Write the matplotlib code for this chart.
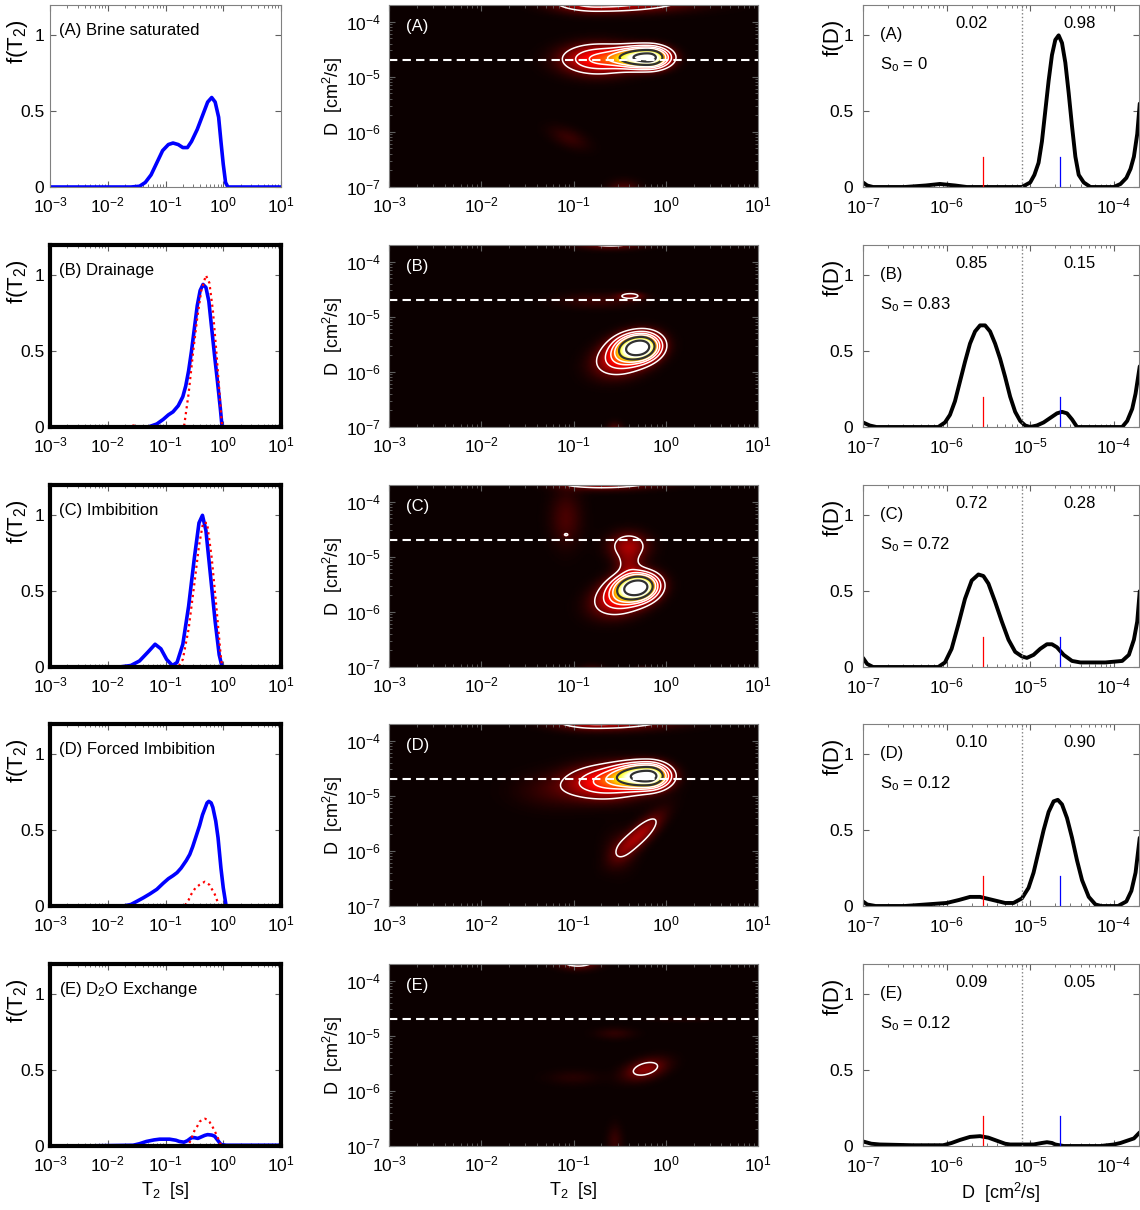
import numpy as np
import matplotlib
matplotlib.use("Agg")
import matplotlib.pyplot as plt
from matplotlib.ticker import LogLocator, NullFormatter, FixedLocator

plt.rcParams['font.family'] = ['Liberation Sans', 'DejaVu Sans']
plt.rcParams['mathtext.fontset'] = 'custom'
plt.rcParams['mathtext.rm'] = 'Liberation Sans'
plt.rcParams['mathtext.it'] = 'Liberation Sans:italic'
plt.rcParams['mathtext.bf'] = 'Liberation Sans:bold'

# ---- data ----
panels = ['A', 'B', 'C', 'D', 'E']
titles = ['(A) Brine saturated', '(B) Drainage', '(C) Imbibition',
          '(D) Forced Imbibition', '(E) D$_2$O Exchange']
frac_oil = ['0.02', '0.85', '0.72', '0.10', '0.09']
frac_water = ['0.98', '0.15', '0.28', '0.90', '0.05']
sat_oil = ['0', '0.83', '0.72', '0.12', '0.12']

# f(T2), blue solid (log10 T2 exponents / amplitude)
A_t2 = [-3.0, -1.6, -1.45, -1.35, -1.25, -1.15, -1.05, -0.95, -0.87, -0.78, -0.7, -0.62, -0.55,
        -0.45, -0.35, -0.27, -0.2, -0.14, -0.08, -0.04, 0.0, 0.04, 0.08, 1.0]
A_f = [0, 0, 0.005, 0.03, 0.08, 0.16, 0.24, 0.28, 0.29, 0.28, 0.26, 0.26, 0.3,
       0.38, 0.48, 0.56, 0.59, 0.56, 0.46, 0.3, 0.15, 0.03, 0, 0]
B_t2 = [-3.0, -1.3, -1.15, -1.04, -0.95, -0.87, -0.78, -0.7, -0.65, -0.6, -0.55, -0.5, -0.45,
        -0.4, -0.35, -0.3, -0.25, -0.2, -0.15, -0.1, -0.05, -0.02, 1.0]
B_f = [0, 0, 0.02, 0.05, 0.08, 0.1, 0.14, 0.2, 0.27, 0.37, 0.5, 0.65, 0.8,
       0.9, 0.94, 0.92, 0.83, 0.65, 0.47, 0.3, 0.12, 0.0, 0.0]
C_t2 = [-3.0, -1.8, -1.6, -1.45, -1.3, -1.18, -1.08, -0.98, -0.88, -0.8, -0.7, -0.6, -0.5,
        -0.42, -0.36, -0.3, -0.22, -0.14, -0.07, -0.02, 1.0]
C_f = [0, 0, 0.01, 0.04, 0.1, 0.15, 0.12, 0.05, 0.01, 0.03, 0.15, 0.4, 0.72,
       0.95, 1.0, 0.9, 0.6, 0.3, 0.08, 0, 0]
D_t2 = [-2.54, -1.73, -1.6, -1.5, -1.38, -1.27, -1.15, -1.04, -0.95, -0.87, -0.8, -0.73, -0.64,
        -0.58, -0.53, -0.47, -0.41, -0.36, -0.32, -0.28, -0.25, -0.21, -0.18, -0.13, -0.09,
        -0.04, 0.0, 0.05, 0.6]
D_f = [0, 0, 0.01, 0.03, 0.055, 0.08, 0.11, 0.15, 0.18, 0.2, 0.22, 0.25, 0.3,
       0.34, 0.39, 0.46, 0.53, 0.6, 0.64, 0.68, 0.69, 0.68, 0.65, 0.56, 0.45,
       0.25, 0.12, 0.0, 0.0]
E_t2 = [-2.48, -1.56, -1.45, -1.33, -1.2, -1.1, -0.93, -0.82, -0.76, -0.68, -0.62, -0.55, -0.5,
        -0.44, -0.38, -0.32, -0.27, -0.2, -0.15, -0.1, -0.04, 0.05, 0.5, 1.0]
E_f = [0, 0.005, 0.015, 0.03, 0.04, 0.045, 0.045, 0.038, 0.03, 0.025, 0.035, 0.055, 0.055,
       0.05, 0.06, 0.07, 0.075, 0.072, 0.065, 0.04, 0.01, 0.005, 0.005, 0.005]

# f(T2), red dotted
B_t2r = [-3.0, -1.7, -1.55, -1.45, -0.7, -0.68, -0.6, -0.52, -0.45, -0.38, -0.3, -0.24, -0.18,
         -0.12, -0.06, -0.02]
B_fr = [0, 0, 0.01, 0, 0, 0, 0.22, 0.5, 0.72, 0.9, 1.0, 0.95, 0.77, 0.5, 0.2, 0.0]
C_t2r = [-3.0, -0.78, -0.7, -0.6, -0.5, -0.42, -0.35, -0.28, -0.2, -0.12, -0.05, -0.02]
C_fr = [0, 0, 0.05, 0.25, 0.55, 0.8, 0.95, 0.95, 0.72, 0.4, 0.1, 0]
D_t2r = [-3.0, -0.67, -0.6, -0.55, -0.48, -0.41, -0.32, -0.24, -0.15, -0.1, -0.06]
D_fr = [0, 0, 0.04, 0.08, 0.12, 0.14, 0.16, 0.14, 0.08, 0.03, 0]
E_t2r = [-3.0, -0.61, -0.55, -0.5, -0.45, -0.41, -0.36, -0.32, -0.28, -0.24, -0.19, -0.15,
         -0.1, -0.06, -0.02]
E_fr = [0, 0, 0.05, 0.1, 0.13, 0.16, 0.175, 0.18, 0.175, 0.16, 0.13, 0.1, 0.06, 0.02, 0]

# f(D), black (log10 D exponents / amplitude)
A_d = [-7.0, -6.95, -6.88, -6.5, -6.25, -6.08, -5.9, -5.76, -5.4, -5.1, -5.0, -4.95, -4.9,
       -4.86, -4.82, -4.78, -4.74, -4.7, -4.66, -4.62, -4.58, -4.54, -4.5, -4.46, -4.42,
       -4.36, -4.28, -4.0, -3.92, -3.85, -3.8, -3.76, -3.72, -3.69]
A_fd = [0.03, 0.01, 0.0, 0.0, 0.01, 0.02, 0.01, 0.0, 0.0, 0.0, 0.03, 0.08, 0.16,
        0.3, 0.5, 0.7, 0.87, 0.97, 1.0, 0.95, 0.82, 0.62, 0.4, 0.2, 0.08,
        0.03, 0.0, 0.0, 0.02, 0.06, 0.12, 0.2, 0.35, 0.55]
B_d = [-7.0, -6.92, -6.84, -6.5, -6.1, -6.02, -5.96, -5.9, -5.84, -5.78, -5.72, -5.66, -5.6,
       -5.54, -5.48, -5.42, -5.36, -5.3, -5.24, -5.18, -5.12, -5.06, -5.0, -4.92, -4.84,
       -4.76, -4.68, -4.62, -4.56, -4.5, -4.44, -4.3, -3.9, -3.84, -3.78, -3.74, -3.69]
B_fd = [0.03, 0.01, 0.0, 0.0, 0.0, 0.03, 0.08, 0.17, 0.3, 0.43, 0.55, 0.63, 0.67,
        0.67, 0.63, 0.55, 0.45, 0.33, 0.2, 0.1, 0.04, 0.01, 0.0, 0.01, 0.03,
        0.06, 0.09, 0.1, 0.09, 0.05, 0.0, 0.0, 0.0, 0.04, 0.12, 0.22, 0.4]
C_d = [-7.0, -6.95, -6.88, -6.5, -6.1, -6.02, -5.94, -5.86, -5.78, -5.7, -5.62, -5.56, -5.5,
       -5.42, -5.34, -5.26, -5.18, -5.1, -5.04, -4.96, -4.88, -4.8, -4.74, -4.68, -4.6,
       -4.5, -4.4, -4.3, -4.1, -3.9, -3.82, -3.76, -3.72, -3.69]
C_fd = [0.06, 0.02, 0.0, 0.0, 0.0, 0.03, 0.12, 0.28, 0.45, 0.57, 0.61, 0.6, 0.55,
        0.43, 0.3, 0.18, 0.1, 0.07, 0.06, 0.08, 0.12, 0.15, 0.15, 0.13, 0.08,
        0.04, 0.03, 0.03, 0.03, 0.04, 0.08, 0.18, 0.3, 0.5]
D_d = [-7.0, -6.95, -6.85, -6.5, -6.0, -5.85, -5.72, -5.6, -5.45, -5.3, -5.2, -5.1, -5.02,
       -4.96, -4.9, -4.84, -4.78, -4.72, -4.67, -4.62, -4.56, -4.5, -4.44, -4.38, -4.3,
       -4.22, -4.15, -3.95, -3.85, -3.79, -3.74, -3.69]
D_fd = [0.03, 0.01, 0.0, 0.0, 0.02, 0.04, 0.06, 0.06, 0.04, 0.02, 0.02, 0.05, 0.12,
        0.22, 0.36, 0.5, 0.62, 0.69, 0.7, 0.67, 0.58, 0.45, 0.3, 0.17, 0.06,
        0.01, 0.0, 0.0, 0.03, 0.1, 0.22, 0.45]
E_d = [-7.0, -6.9, -6.8, -6.4, -6.04, -5.94, -5.84, -5.72, -5.6, -5.5, -5.4, -5.3, -5.24,
       -5.1, -4.96, -4.86, -4.8, -4.74, -4.7, -4.6, -4.4, -4.16, -4.0, -3.92, -3.84, -3.76, -3.69]
E_fd = [0.03, 0.015, 0.01, 0.005, 0.005, 0.02, 0.04, 0.06, 0.065, 0.055, 0.035, 0.015, 0.01,
        0.01, 0.01, 0.02, 0.025, 0.02, 0.01, 0.0, 0.0, 0.0, 0.01, 0.02, 0.035, 0.05, 0.09]

# 2D T2-D maps, one entry per peak:
# (log T2, log D, T2 width left, T2 width right, D width, amplitude, tilt)
A_peaks = [(-0.19, -4.65, 0.22, 0.14, 0.12, 1.0, 0.0),
           (-0.75, -4.68, 0.25, 0.25, 0.18, 0.3, 0.0),
           (-0.75, -3.62, 0.3, 0.6, 0.13, 0.3, 0.0),
           (-1.05, -6.1, 0.15, 0.15, 0.15, 0.05, -0.5),
           (-0.45, -7.05, 0.12, 0.12, 0.12, 0.08, 0.0)]
B_peaks = [(-0.28, -5.55, 0.15, 0.13, 0.15, 1.0, 0.1),
           (-0.45, -5.72, 0.2, 0.2, 0.22, 0.3, 0.3),
           (-0.38, -4.62, 0.1, 0.1, 0.05, 0.12, 0.0),
           (-0.75, -4.7, 0.3, 0.3, 0.1, 0.05, 0.0),
           (-0.6, -3.64, 0.25, 0.25, 0.08, 0.16, 0.0),
           (-0.55, -7.05, 0.06, 0.06, 0.1, 0.08, 0.0)]
C_peaks = [(-0.3, -5.55, 0.15, 0.13, 0.15, 1.0, 0.1),
           (-0.47, -5.72, 0.2, 0.2, 0.22, 0.3, 0.3),
           (-0.4, -4.8, 0.145, 0.145, 0.17, 0.17, 0.0),
           (-0.4, -5.15, 0.1, 0.1, 0.15, 0.1, 0.0),
           (-1.08, -4.3, 0.12, 0.12, 0.35, 0.07, 0.0),
           (-1.08, -4.6, 0.025, 0.025, 0.025, 0.07, 0.0),
           (-0.7, -3.6, 0.3, 0.4, 0.1, 0.3, 0.0),
           (-0.8, -7.05, 0.1, 0.1, 0.08, 0.05, 0.0),
           (-0.25, -7.05, 0.06, 0.06, 0.05, 0.06, 0.0)]
D_peaks = [(-0.19, -4.64, 0.22, 0.14, 0.14, 1.0, 0.0),
           (-0.65, -4.75, 0.27, 0.27, 0.2, 0.3, 0.0),
           (-1.2, -4.9, 0.3, 0.3, 0.22, 0.05, 0.0),
           (-0.28, -5.7, 0.17, 0.17, 0.27, 0.17, 0.8),
           (-0.5, -6.0, 0.12, 0.12, 0.25, 0.05, 0.0),
           (-0.75, -3.6, 0.3, 0.5, 0.12, 0.3, 0.0)]
E_peaks = [(-0.22, -5.6, 0.16, 0.16, 0.14, 0.14, 0.4),
           (-0.55, -4.95, 0.15, 0.15, 0.08, 0.04, 0.0),
           (-1.0, -5.75, 0.2, 0.2, 0.1, 0.03, 0.0),
           (-0.55, -6.9, 0.06, 0.06, 0.2, 0.05, 0.0),
           (-0.95, -3.62, 0.15, 0.15, 0.1, 0.2, 0.0),
           (0.2, -4.7, 0.3, 0.3, 0.04, 0.02, 0.0)]

water_D = 2.0e-5     # dashed line in maps
cut_D = 8.0e-6       # dotted split line in f(D)
oil_D = 2.7e-6       # red marker
brine_D = 2.3e-5     # blue marker

blue = [(A_t2, A_f), (B_t2, B_f), (C_t2, C_f), (D_t2, D_f), (E_t2, E_f)]
red = [None, (B_t2r, B_fr), (C_t2r, C_fr), (D_t2r, D_fr), (E_t2r, E_fr)]
fdist = [(A_d, A_fd), (B_d, B_fd), (C_d, C_fd), (D_d, D_fd), (E_d, E_fd)]
maps = [A_peaks, B_peaks, C_peaks, D_peaks, E_peaks]

W, H = 1140, 1210
fig = plt.figure(figsize=(W / 100, H / 100), dpi=100)
tops = [5, 245, 485, 724, 964]
ah = 182


def box(left, width, top):
    return [left / W, 1 - (top + ah) / H, width / W, ah / H]


def style(ax, color='#808080', lw=0.8, pad=6):
    ax.tick_params(which='both', direction='in', top=True, right=True,
                   labelsize=12.5, color='#606060', pad=pad)
    ax.tick_params(which='major', length=4)
    ax.tick_params(which='minor', length=2)
    for s in ax.spines.values():
        s.set_color(color)
        s.set_linewidth(lw)


def log_ticks(axis):
    axis.set_major_locator(LogLocator(base=10, numticks=10))
    axis.set_minor_locator(LogLocator(base=10, subs=np.arange(2, 10), numticks=20))
    axis.set_minor_formatter(NullFormatter())


lt = np.linspace(-3, 1, 300)
ld = np.linspace(-7, np.log10(2e-4), 220)
LT, LD = np.meshgrid(lt, ld)

for i, p in enumerate(panels):
    top = tops[i]

    # left: f(T2)
    ax = fig.add_axes(box(50, 231, top))
    if i == 0:
        style(ax)
    else:
        style(ax, color='black', lw=3)
    x, y = blue[i]
    ax.plot(10.0 ** np.array(x), y, color='#0000FF', lw=2.6, solid_capstyle='round')
    if red[i] is not None:
        x, y = red[i]
        ax.plot(10.0 ** np.array(x), y, color='red', lw=1.6, ls=':')
    ax.set_xscale('log')
    ax.set_xlim(1e-3, 1e1)
    ax.set_ylim(0, 1.2)
    log_ticks(ax.xaxis)
    ax.yaxis.set_major_locator(FixedLocator([0, 0.5, 1]))
    ax.set_yticklabels(['0', '0.5', '1'])
    ax.tick_params(axis='y', pad=4)
    ax.text(0.04, 0.86, titles[i], transform=ax.transAxes, fontsize=12, va='center')
    ax.set_ylabel('f(T$_2$)', fontsize=16)
    ax.yaxis.set_label_coords(-0.085, 0.8)
    if i == 4:
        ax.set_xlabel('T$_2$  [s]', fontsize=13)

    # middle: T2-D map
    ax = fig.add_axes(box(389, 369, top))
    style(ax)
    Z = np.zeros_like(LT)
    for t0, d0, stl, str_, sd, amp, rho in maps[i]:
        st = np.where(LT < t0, stl, str_)
        u = (LT - t0) / st
        v = (LD - d0) / sd
        Z += amp * np.exp(-0.5 * (u * u - 2 * rho * u * v + v * v) / (1 - rho * rho))
    X, Y = 10.0 ** LT, 10.0 ** LD
    ax.pcolormesh(X, Y, Z, cmap='hot', vmin=0, vmax=0.75, shading='gouraud')
    ax.contour(X, Y, Z, levels=[0.1, 0.2, 0.3, 0.4], colors='white', linewidths=1.1)
    ax.contour(X, Y, Z, levels=[0.55, 0.85], colors='#303030', linewidths=1.6)
    ax.axhline(water_D, color='white', ls='--', lw=1.5, dashes=(4, 2.5))
    ax.set_xscale('log')
    ax.set_yscale('log')
    ax.set_xlim(1e-3, 1e1)
    ax.set_ylim(1e-7, 2e-4)
    log_ticks(ax.xaxis)
    log_ticks(ax.yaxis)
    ax.text(0.045, 0.88, '(%s)' % p, transform=ax.transAxes, fontsize=12,
            color='white', va='center')
    ax.set_ylabel('D  [cm$^2$/s]', fontsize=13)
    ax.yaxis.set_label_coords(-0.12, 0.5)
    if i == 4:
        ax.set_xlabel('T$_2$  [s]', fontsize=13)

    # right: f(D)
    ax = fig.add_axes(box(863, 276, top))
    style(ax, pad=7)
    x, y = fdist[i]
    ax.plot(10.0 ** np.array(x), y, color='black', lw=2.8, solid_capstyle='round')
    ax.plot([oil_D, oil_D], [0, 0.2], color='red', lw=0.9)
    ax.plot([brine_D, brine_D], [0, 0.2], color='blue', lw=0.9)
    ax.axvline(cut_D, color='#808080', ls=':', lw=1.0)
    ax.set_xscale('log')
    ax.set_xlim(1e-7, 2e-4)
    ax.set_ylim(0, 1.2)
    log_ticks(ax.xaxis)
    ax.yaxis.set_major_locator(FixedLocator([0, 0.5, 1]))
    ax.set_yticklabels(['0', '0.5', '1'])
    ax.text(0.393, 0.9, frac_oil[i], transform=ax.transAxes, fontsize=12, ha='center', va='center')
    ax.text(0.785, 0.9, frac_water[i], transform=ax.transAxes, fontsize=12, ha='center', va='center')
    ax.text(0.06, 0.84, '(%s)' % p, transform=ax.transAxes, fontsize=12, va='center')
    ax.text(0.06, 0.67, r'S$_{\mathrm{o}}$ = ' + sat_oil[i], transform=ax.transAxes,
            fontsize=12, va='center')
    ax.set_ylabel('f(D)', fontsize=16)
    ax.yaxis.set_label_coords(-0.07, 0.82)
    if i == 4:
        ax.set_xlabel('D  [cm$^2$/s]', fontsize=13)

fig.savefig('out.png', dpi=100)
